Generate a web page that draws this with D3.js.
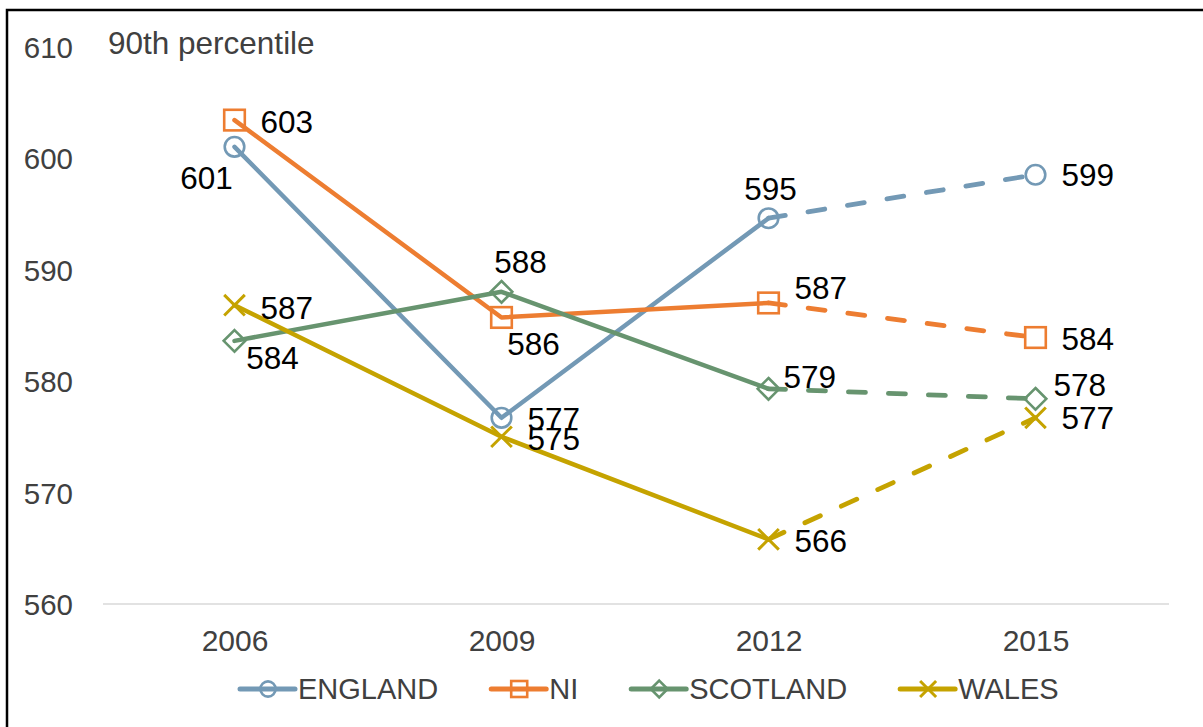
<!DOCTYPE html>
<html>
<head>
<meta charset="utf-8">
<script src="https://cdn.jsdelivr.net/npm/d3@7"></script>
<style>
  html, body { margin: 0; padding: 0; background: #fff; }
  svg { display: block; font-family: "Liberation Sans", Arial, sans-serif; }
</style>
</head>
<body>
<svg id="chart" width="1203" height="727"></svg>
<script>
// ---- data ----
const years = ["2006", "2009", "2012", "2015"];
const seriesNames = ["ENGLAND", "NI", "SCOTLAND", "WALES"];
const england  = [601.0, 576.7, 594.6, 598.5];
const ni       = [603.4, 585.7, 587.0, 583.9];
const scotland = [583.6, 588.0, 579.3, 578.4];
const wales    = [586.8, 575.0, 565.8, 576.7];
const yTicks   = [560, 570, 580, 590, 600, 610];
const chartTitle = "90th percentile";

// ---- styling ----
const colors  = { ENGLAND: "#7399b5", NI: "#ed7d31", SCOTLAND: "#67946f", WALES: "#c5a300" };
const markers = { ENGLAND: "circle", NI: "square", SCOTLAND: "diamond", WALES: "cross" };
// label nudge per point: [anchor, dx, dy] relative to the marker centre
const labelNudge = {
  ENGLAND:  [["middle", -28, 31], ["start", 26, 1], ["middle", 2, -30], ["start", 26, 0]],
  NI:       [["start", 26, 2], ["middle", 32, 26], ["start", 26, -15], ["start", 26, 1]],
  SCOTLAND: [["middle", 38, 17], ["middle", 19, -30], ["start", 15, -12], ["start", 18, -14]],
  WALES:    [["start", 26, 2], ["start", 26, 2], ["start", 26, 1], ["start", 26, 0]]
};

const table = seriesNames.map((name, i) => ({
  name,
  values: [england, ni, scotland, wales][i].map((v, j) => ({ year: years[j], value: v }))
}));

const svg = d3.select("#chart");

// outer frame
svg.append("rect")
  .attr("x", 7).attr("y", 10).attr("width", 1400).attr("height", 900)
  .attr("fill", "none").attr("stroke", "#000").attr("stroke-width", 2.5);

const x = d3.scalePoint().domain(years).range([101, 1169]).padding(0.5);
const y = d3.scaleLinear().domain([560, 610]).range([604, 46.5]);

// baseline
svg.append("line")
  .attr("x1", 103).attr("x2", 1169)
  .attr("y1", y(560)).attr("y2", y(560))
  .attr("stroke", "#d9d9d9").attr("stroke-width", 1.5);

// y axis labels
const yAxis = d3.axisLeft(y).tickValues(yTicks).tickSize(0).tickPadding(0);
const gy = svg.append("g").attr("transform", "translate(73,0)").call(yAxis);
gy.select(".domain").remove();
gy.selectAll("text")
  .attr("font-size", 29.5).attr("fill", "#404040")
  .attr("font-family", "Liberation Sans, Arial, sans-serif")
  .attr("dy", "0.36em").attr("x", 0);

// x axis labels
const xAxis = d3.axisBottom(x).tickSize(0).tickPadding(0);
const gx = svg.append("g").attr("transform", "translate(0,630)").call(xAxis);
gx.select(".domain").remove();
gx.selectAll("text")
  .attr("font-size", 30).attr("fill", "#404040")
  .attr("font-family", "Liberation Sans, Arial, sans-serif")
  .attr("dy", "0.71em").attr("y", 0);

// title
svg.append("text")
  .attr("x", 108).attr("y", 54)
  .attr("font-size", 31.5).attr("fill", "#404040")
  .text(chartTitle);

// lines: solid for the first three years, dashed for the last step
const line = d3.line().x(d => x(d.year)).y(d => y(d.value));
const gLines = svg.append("g");
table.forEach(s => {
  gLines.append("path")
    .datum(s.values.slice(0, 3))
    .attr("d", line)
    .attr("fill", "none").attr("stroke", colors[s.name])
    .attr("stroke-width", 4.5).attr("stroke-linecap", "round").attr("stroke-linejoin", "round");
  gLines.append("path")
    .datum(s.values.slice(2))
    .attr("d", line)
    .attr("fill", "none").attr("stroke", colors[s.name])
    .attr("stroke-width", 4.8).attr("stroke-linecap", "round")
    .attr("stroke-dasharray", "17,23");
});

// marker drawing
function drawMarker(g, type, cx, cy, size, color) {
  const h = size;
  if (type === "circle") {
    g.append("circle").attr("cx", cx).attr("cy", cy).attr("r", h * 0.95)
      .attr("fill", "none").attr("stroke", color).attr("stroke-width", 2.6);
  } else if (type === "square") {
    g.append("rect").attr("x", cx - h).attr("y", cy - h)
      .attr("width", 2 * h).attr("height", 2 * h)
      .attr("fill", "none").attr("stroke", color).attr("stroke-width", 2.6);
  } else if (type === "diamond") {
    const d = h * 1.05;
    g.append("path")
      .attr("d", `M${cx},${cy - d}L${cx + d},${cy}L${cx},${cy + d}L${cx - d},${cy}Z`)
      .attr("fill", "none").attr("stroke", color).attr("stroke-width", 2.6);
  } else {
    const d = h * 1.0;
    g.append("path")
      .attr("d", `M${cx - d},${cy - d}L${cx + d},${cy + d}M${cx - d},${cy + d}L${cx + d},${cy - d}`)
      .attr("fill", "none").attr("stroke", color).attr("stroke-width", 3);
  }
}

const gMarks = svg.append("g");
table.forEach(s => {
  s.values.forEach(d => {
    drawMarker(gMarks, markers[s.name], x(d.year), y(d.value), 10.3, colors[s.name]);
  });
});

// data labels
const fmt = d3.format(".0f");
const gLabels = svg.append("g");
table.forEach(s => {
  s.values.forEach((d, j) => {
    const [anchor, dx, dy] = labelNudge[s.name][j];
    gLabels.append("text")
      .attr("x", x(d.year) + dx)
      .attr("y", y(d.value) + dy)
      .attr("dy", "0.36em")
      .attr("text-anchor", anchor)
      .attr("font-size", 31.5).attr("fill", "#000")
      .text(fmt(d.value));
  });
});

// legend
const gLegend = svg.append("g").attr("transform", "translate(0,689)");
let lx = 240;
seriesNames.forEach(name => {
  const item = gLegend.append("g");
  item.append("line")
    .attr("x1", lx).attr("x2", lx + 55).attr("y1", 0).attr("y2", 0)
    .attr("stroke", colors[name]).attr("stroke-width", 5).attr("stroke-linecap", "round");
  drawMarker(item, markers[name], lx + 28, 0, 8, colors[name]);
  const t = item.append("text")
    .attr("x", lx + 58).attr("y", 0).attr("dy", "0.36em")
    .attr("font-size", 29).attr("fill", "#404040")
    .text(name);
  lx += 58 + t.node().getComputedTextLength() + 53;
});
</script>
</body>
</html>
